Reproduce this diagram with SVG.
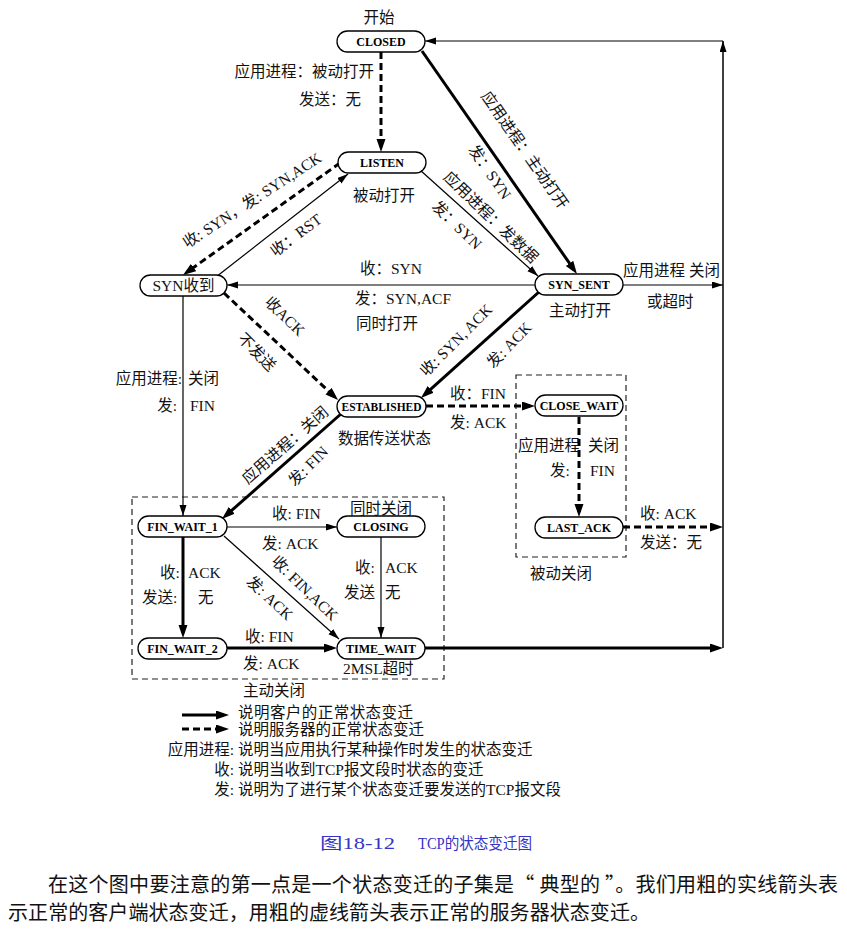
<svg xmlns="http://www.w3.org/2000/svg" width="847" height="932" viewBox="0 0 847 932">
<style>
.lbl{font-family:"Liberation Serif","Noto Sans CJK SC",serif;font-size:15.5px;fill:#111}
.mid{text-anchor:middle}
.end{text-anchor:end}
.nd rect{fill:#fff;stroke:#000;stroke-width:1.3}
.nt{font-family:"Liberation Serif",serif;font-weight:bold;font-size:12px;text-anchor:middle;fill:#000}
.thick{stroke:#000;stroke-width:3;fill:none;marker-end:url(#ahB)}
.thin{stroke:#000;stroke-width:1.2;fill:none;marker-end:url(#ahS)}
.dash{stroke-dasharray:7 4}
.box{fill:none;stroke:#222;stroke-width:1.2;stroke-dasharray:6 4}
.cap{font-family:"Liberation Serif","Noto Sans CJK SC",serif;font-size:16px;fill:#3434c8}
.para{font-family:"Noto Sans CJK SC",sans-serif;font-size:20px;fill:#111}
</style>
<defs>
<marker id="ahB" markerUnits="userSpaceOnUse" markerWidth="14" markerHeight="10" refX="8" refY="4.5" orient="auto"><path d="M0,0 L13,4.5 L0,9 z" fill="#000"/></marker>
<marker id="ahS" markerUnits="userSpaceOnUse" markerWidth="12" markerHeight="8" refX="11" refY="3.5" orient="auto"><path d="M0,0 L11,3.5 L0,7 z" fill="#000"/></marker>
</defs>
<rect width="847" height="932" fill="#fff"/>

<!-- dashed group boxes -->
<rect class="box" x="132" y="497" width="312" height="182"/>
<rect class="box" x="516" y="375" width="110" height="182"/>

<g id="connectors">
<path class="thick dash" d="M381,52 V147"/>
<path class="thick" d="M422,51 L574.1,269.9"/>
<path class="thin" d="M420,170 L538,276"/>
<path class="thick dash" d="M340,163 L187.1,272.1"/>
<path class="thin" d="M207,284 L348,174"/>
<path class="thin" d="M535,285 H227"/>
<path class="thick dash" d="M224,293 L334.4,396.6"/>
<path class="thin" d="M183,296 V516"/>
<path class="thick" d="M540,291 L424.7,394.7"/>
<path class="thick dash" d="M426,406 H530"/>
<path class="thick dash" d="M579,417 V512"/>
<path class="thick dash" d="M623,527 H718"/>
<path class="thick" d="M342,413 L225.7,515.7"/>
<path class="thin" d="M227,527 H337"/>
<path class="thick" d="M183,537 V633"/>
<path class="thin" d="M224,536 L339,639"/>
<path class="thin" d="M381,537 V638"/>
<path class="thick" d="M227,648 H332"/>
<path class="thick" d="M425,648 H718"/>
<path class="thin" d="M623,285 H723"/>
<path class="thin" style="stroke-width:1.5" d="M723,648 V41"/>
<path class="thin" d="M723,41 H425"/>
</g>

<g id="n-closed" class="nd"><rect x="337" y="31" width="88" height="21" rx="10.5"/><text class="nt" x="381" y="45.5">CLOSED</text></g>
<g id="n-listen" class="nd"><rect x="338" y="152" width="88" height="21" rx="10.5"/><text class="nt" x="382" y="166.5">LISTEN</text></g>
<g id="n-synrcvd" class="nd"><rect x="140" y="275" width="87" height="21" rx="10.5"/><text class="lbl mid" x="183.5" y="291">SYN收到</text></g>
<g id="n-synsent" class="nd"><rect x="535" y="274" width="88" height="21" rx="10.5"/><text class="nt" x="579" y="288.5">SYN_SENT</text></g>
<g id="n-established" class="nd"><rect x="337" y="396" width="89" height="21" rx="10.5"/><text class="nt" x="381.5" y="410.5" textLength="80" lengthAdjust="spacingAndGlyphs">ESTABLISHED</text></g>
<g id="n-closewait" class="nd"><rect x="535" y="395" width="88" height="21" rx="10.5"/><text class="nt" x="579" y="409.5">CLOSE_WAIT</text></g>
<g id="n-lastack" class="nd"><rect x="535" y="517" width="88" height="21" rx="10.5"/><text class="nt" x="579" y="531.5">LAST_ACK</text></g>
<g id="n-finwait1" class="nd"><rect x="138" y="516" width="89" height="21" rx="10.5"/><text class="nt" x="182.5" y="530.5">FIN_WAIT_1</text></g>
<g id="n-closing" class="nd"><rect x="337" y="516" width="88" height="21" rx="10.5"/><text class="nt" x="381" y="530.5">CLOSING</text></g>
<g id="n-finwait2" class="nd"><rect x="138" y="638" width="89" height="21" rx="10.5"/><text class="nt" x="182.5" y="652.5">FIN_WAIT_2</text></g>
<g id="n-timewait" class="nd"><rect x="337" y="638" width="88" height="21" rx="10.5"/><text class="nt" x="381" y="652.5">TIME_WAIT</text></g>

<g id="labels">
<text class="lbl mid" x="379" y="22.5">开始</text>
<text class="lbl end" x="374" y="76.5">应用进程：被动打开</text>
<text class="lbl end" x="361" y="104.5">发送：无</text>
<text class="lbl" x="353" y="200.5">被动打开</text>
<text class="lbl" x="360" y="273.5">收：SYN</text>
<text class="lbl" x="355" y="303.5">发：SYN,ACF</text>
<text class="lbl" x="356" y="328.5">同时打开</text>
<text class="lbl" x="549" y="315.5">主动打开</text>
<text class="lbl" x="623" y="275.5">应用进程 关闭</text>
<text class="lbl" x="647" y="306.5">或超时</text>
<text class="lbl end" x="182" y="383.5">应用进程:</text>
<text class="lbl" x="188" y="383.5">关闭</text>
<text class="lbl end" x="177" y="410.5">发:</text>
<text class="lbl" x="190" y="410.5">FIN</text>
<text class="lbl" x="338" y="443.5">数据传送状态</text>
<text class="lbl" x="450" y="398.5">收：FIN</text>
<text class="lbl" x="450" y="427.5">发: ACK</text>
<text class="lbl" x="518" y="450.5">应用进程</text>
<text class="lbl" x="588" y="450.5">关闭</text>
<text class="lbl" x="550" y="475.5">发:</text>
<text class="lbl" x="590" y="475.5">FIN</text>
<text class="lbl" x="640" y="518.5">收: ACK</text>
<text class="lbl" x="640" y="547.5">发送：无</text>
<text class="lbl" x="530" y="578.5">被动关闭</text>
<text class="lbl" x="350" y="513.5">同时关闭</text>
<text class="lbl" x="272" y="518.5">收: FIN</text>
<text class="lbl" x="262" y="548.5">发: ACK</text>
<text class="lbl" x="160" y="577.5">收:</text>
<text class="lbl" x="188" y="577.5">ACK</text>
<text class="lbl" x="142" y="602.5">发送:</text>
<text class="lbl" x="198" y="602.5">无</text>
<text class="lbl" x="355" y="572.5">收:</text>
<text class="lbl" x="385" y="572.5">ACK</text>
<text class="lbl" x="344" y="597.5">发送</text>
<text class="lbl" x="385" y="597.5">无</text>
<text class="lbl" x="245" y="641.5">收: FIN</text>
<text class="lbl" x="243" y="668.5">发: ACK</text>
<text class="lbl" x="343" y="673.5">2MSL超时</text>
<text class="lbl" x="243" y="695.5">主动关闭</text>

<text class="lbl mid" transform="translate(525,150) rotate(55)" y="5.5">应用进程：主动打开</text>
<text class="lbl mid" transform="translate(490,172) rotate(55)" y="5.5">发：SYN</text>
<text class="lbl mid" transform="translate(491,217) rotate(44)" y="5.5">应用进程：发数据</text>
<text class="lbl mid" transform="translate(457,225) rotate(44)" y="5.5">发：SYN</text>
<text class="lbl mid" transform="translate(252,200) rotate(-33)" y="5.5">收: SYN，发: SYN,ACK</text>
<text class="lbl mid" transform="translate(296,235) rotate(-37)" y="5.5">收：RST</text>
<text class="lbl mid" transform="translate(285,316) rotate(44)" y="5.5">收ACK</text>
<text class="lbl mid" transform="translate(257,352) rotate(45)" y="5.5">不发送</text>
<text class="lbl mid" transform="translate(456,340) rotate(-45)" y="5.5">收: SYN, ACK</text>
<text class="lbl mid" transform="translate(509,345) rotate(-46)" y="5.5">发: ACK</text>
<text class="lbl mid" transform="translate(285,445) rotate(-41)" y="5.5">应用进程：关闭</text>
<text class="lbl mid" transform="translate(308,466) rotate(-45)" y="5.5">发: FIN</text>
<text class="lbl mid" transform="translate(305,588) rotate(44)" y="5.5">收: FIN,ACK</text>
<text class="lbl mid" transform="translate(270,598) rotate(43)" y="5.5">发: ACK</text>
</g>

<g id="legend">
<path class="thick" d="M182,715 H224"/>
<path class="thick dash" d="M182,729 H224"/>
<text class="lbl" x="238" y="717.5" textLength="175" lengthAdjust="spacing">说明客户的正常状态变迁</text>
<text class="lbl" x="238" y="734.5">说明服务器的正常状态变迁</text>
<text class="lbl end" x="234" y="754.5">应用进程:</text>
<text class="lbl" x="238" y="754.5">说明当应用执行某种操作时发生的状态变迁</text>
<text class="lbl end" x="234" y="774.5">收:</text>
<text class="lbl" x="238" y="774.5">说明当收到TCP报文段时状态的变迁</text>
<text class="lbl end" x="234" y="794.5">发:</text>
<text class="lbl" x="238" y="794.5">说明为了进行某个状态变迁要发送的TCP报文段</text>
</g>

<text class="cap" x="320" y="849" textLength="75" lengthAdjust="spacingAndGlyphs">图18-12</text>
<text class="cap" x="418" y="849" textLength="114" lengthAdjust="spacingAndGlyphs">TCP的状态变迁图</text>
<text class="para" x="48" y="892" textLength="790" lengthAdjust="spacing">在这个图中要注意的第一点是一个状态变迁的子集是“ 典型的 ”。我们用粗的实线箭头表</text>
<text class="para" x="8" y="920" textLength="642" lengthAdjust="spacing">示正常的客户端状态变迁，用粗的虚线箭头表示正常的服务器状态变迁。</text>
</svg>
